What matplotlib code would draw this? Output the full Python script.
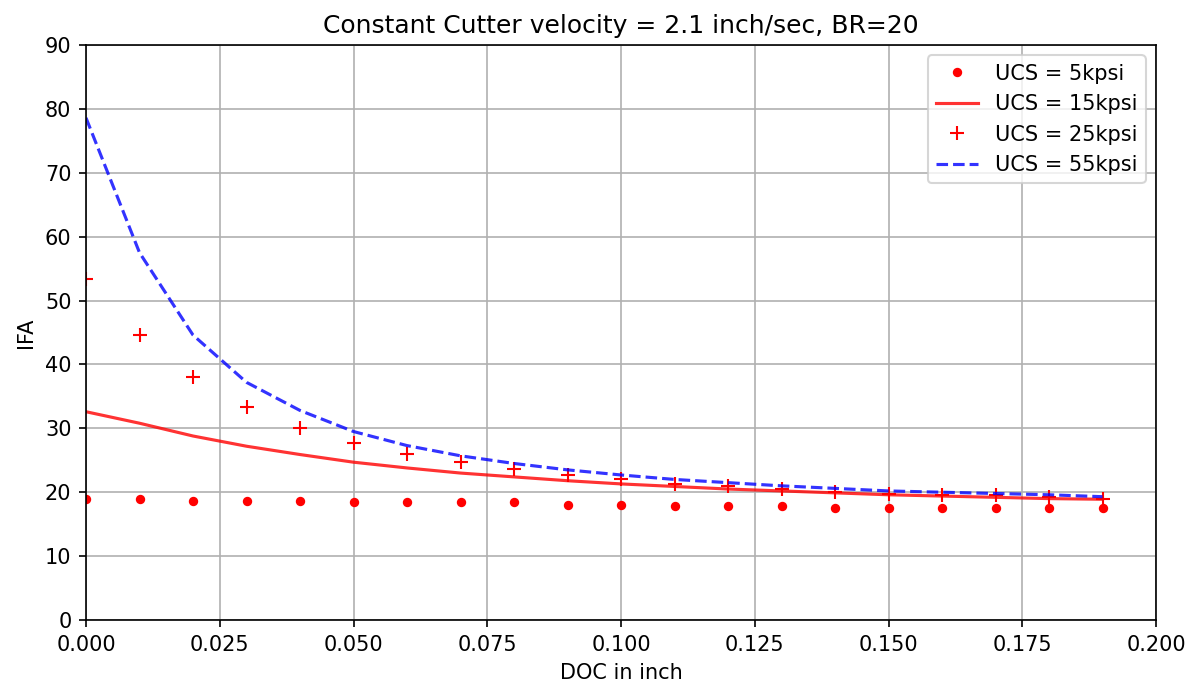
import numpy as np
import matplotlib
matplotlib.use("Agg")
import matplotlib.pyplot as plt

doc = [0.00, 0.01, 0.02, 0.03, 0.04, 0.05, 0.06, 0.07, 0.08, 0.09,
       0.10, 0.11, 0.12, 0.13, 0.14, 0.15, 0.16, 0.17, 0.18, 0.19]

# IFA values
ucs5 = [19.0, 19.0, 18.7, 18.7, 18.7, 18.4, 18.4, 18.4, 18.4, 18.0,
        18.0, 17.9, 17.9, 17.9, 17.6, 17.6, 17.6, 17.6, 17.6, 17.6]
ucs15 = [32.6, 30.8, 28.8, 27.2, 25.9, 24.7, 23.8, 23.0, 22.4, 21.8,
         21.3, 20.9, 20.5, 20.2, 19.9, 19.6, 19.4, 19.2, 19.0, 18.9]
ucs25 = [53.4, 44.6, 38.0, 33.4, 30.0, 27.7, 26.0, 24.7, 23.7, 22.7,
         22.0, 21.3, 20.9, 20.5, 20.1, 19.8, 19.6, 19.5, 19.3, 19.0]
ucs55 = [78.6, 57.5, 44.6, 37.2, 32.8, 29.5, 27.3, 25.7, 24.5, 23.5,
         22.7, 22.0, 21.5, 21.0, 20.6, 20.2, 20.0, 19.8, 19.6, 19.3]

DPI = 150
fig = plt.figure(figsize=(1197 / DPI, 687 / DPI), dpi=DPI)
ax = fig.add_axes([86 / 1197, 1 - 620 / 687, 1070 / 1197, 575 / 687])

ax.plot(doc, ucs5, 'r.', markersize=7, label='UCS = 5kpsi')
ax.plot(doc, ucs15, 'r-', alpha=0.8, label='UCS = 15kpsi')
ax.plot(doc, ucs25, 'r+', markersize=7, label='UCS = 25kpsi')
ax.plot(doc, ucs55, 'b--', alpha=0.8, label='UCS = 55kpsi')

ax.set_xlim(0, 0.2)
ax.set_ylim(0, 90)
ax.set_xticks(np.arange(0, 0.2001, 0.025))
ax.set_yticks(np.arange(0, 91, 10))
ax.grid(True)
ax.set_title("Constant Cutter velocity = 2.1 inch/sec, BR=20")
ax.set_xlabel("DOC in inch")
ax.set_ylabel("IFA")
ax.legend(loc='upper right')

fig.savefig("out.png", dpi=DPI)
